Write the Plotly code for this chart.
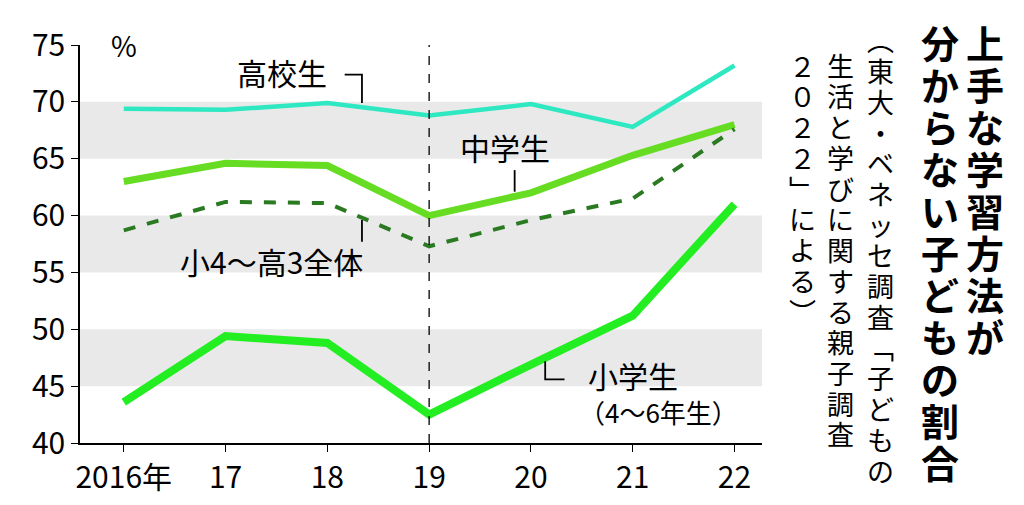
import plotly.graph_objects as go

years = ["2016年", "17", "18", "19", "20", "21", "22"]
koko = [69.4, 69.3, 69.9, 68.8, 69.8, 67.8, 73.2]
chu = [63.0, 64.6, 64.4, 60.0, 62.0, 65.3, 68.0]
zentai = [58.7, 61.2, 61.1, 57.3, 59.6, 61.5, 67.6]
sho = [43.6, 49.4, 48.8, 42.5, 46.9, 51.2, 61.0]
yticks = [40, 45, 50, 55, 60, 65, 70, 75]

x = list(range(len(years)))
F = "Noto Sans CJK JP"
fig = go.Figure()
for lo in (45, 55, 65):
    fig.add_shape(type="rect", xref="x", yref="y", x0=-0.43, x1=6.27, y0=lo, y1=lo + 5,
                  fillcolor="#e9e9e9", line_width=0, layer="below")
fig.add_shape(type="line", x0=3, x1=3, y0=40, y1=75, line=dict(color="black", width=1.3, dash="dash"))
fig.add_trace(go.Scatter(x=x, y=koko, mode="lines", line=dict(color="#2de8c0", width=4.5)))
fig.add_trace(go.Scatter(x=x, y=chu, mode="lines", line=dict(color="#66dd22", width=7)))
fig.add_trace(go.Scatter(x=x, y=zentai, mode="lines", line=dict(color="#2a7a22", width=4, dash="dash")))
fig.add_trace(go.Scatter(x=x, y=sho, mode="lines", line=dict(color="#22ee22", width=8)))

lk = dict(color="black", width=1.8)
fig.add_shape(type="path", path="M 2.17 72.4 L 2.34 72.4 L 2.34 69.9", line=lk)
fig.add_shape(type="line", x0=3.84, x1=3.84, y0=64.0, y1=62.1, line=lk)
fig.add_shape(type="line", x0=2.34, x1=2.34, y0=59.6, y1=57.7, line=lk)
fig.add_shape(type="path", path="M 4.14 47.2 L 4.14 45.6 L 4.33 45.6", line=lk)

def ann(t, xx, yy, s=30, **k):
    fig.add_annotation(text=t, x=xx, y=yy, showarrow=False, font=dict(family=F, size=s, color="black"), **k)

ann("高校生", 1.55, 72.6)
ann("中学生", 3.75, 66.0)
ann("小4～高3全体", 1.45, 56.0)
ann("小学生", 5.0, 46.0)
ann("（4～6年生）", 5.25, 42.8, s=26)
ann("%", 0.0, 75.0, s=28, xanchor="center")

def vert(t, px, top, pitch, s, bold=False):
    for i, ch in enumerate(t):
        py = top + pitch * (i + 0.5)
        txt = f"<b>{ch}</b>" if bold else ch
        fig.add_annotation(text=txt, xref="paper", yref="paper",
                           x=(px - 80) / 682, y=(443 - py) / 408,
                           xanchor="center", yanchor="middle", showarrow=False,
                           font=dict(family=F, size=s, color="black"))

vert("上手な学習方法が", 985, 10, 43, 38, True)
vert("分からない子どもの割合", 940, 10, 43, 38, True)
vert("︵東大・ベネッセ調査﹁子どもの", 880, 14, 31.5, 27)
vert("生活と学びに関する親子調査", 841, 40, 31.5, 27)
vert("２０２２﹂による︶", 802, 40, 31.5, 27)

fig.update_layout(
    width=1024, height=505, margin=dict(l=72, r=270, t=27, b=70),
    plot_bgcolor="white", paper_bgcolor="white", showlegend=False,
    xaxis=dict(range=[-0.43, 6.27], tickmode="array", tickvals=x, ticktext=years,
               showgrid=False, zeroline=False, showline=True, linecolor="black", linewidth=1.5,
               ticks="outside", ticklen=7, tickcolor="black",
               tickfont=dict(family=F, size=30, color="black")),
    yaxis=dict(range=[40, 75], tickvals=yticks, showgrid=False, zeroline=False,
               showline=True, linecolor="black", linewidth=1.5, ticks="outside", ticklen=7,
               tickcolor="black", tickfont=dict(family=F, size=30, color="black")),
)
fig.write_html("out.html")
